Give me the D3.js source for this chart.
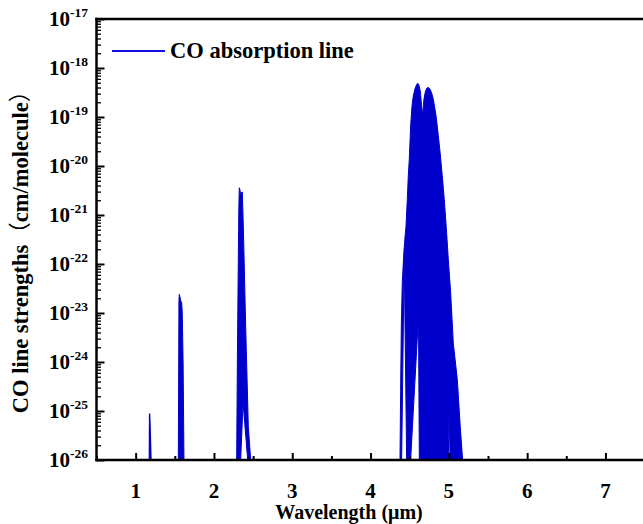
<!DOCTYPE html>
<html>
<head>
<meta charset="utf-8">
<script src="https://cdn.jsdelivr.net/npm/d3@7"></script>
<style>
  html, body { margin: 0; padding: 0; background: #fff; }
  svg { display: block; }
</style>
</head>
<body>
<script>
// ---------- data ----------
const xTickValues = [1, 2, 3, 4, 5, 6, 7];
const xMinorTicks = [0.5, 1.5, 2.5, 3.5, 4.5, 5.5, 6.5, 7.5];
const yExponents = [-17, -18, -19, -20, -21, -22, -23, -24, -25, -26];
const legendLabel = "CO absorption line";
const xTitle = "Wavelength (μm)";
const yTitleParts = ["CO line strengths", "（", "cm/molecule", "）"];

// third overtone band (~1.19 µm)
const band3v_wl = [1.175, 1.178, 1.184, 1.196];
const band3v_S  = [1e-26, 8.7e-26, 5e-26, 1e-26];

// second overtone band (~1.57 µm)
const band2v_wl = [1.545, 1.553, 1.558, 1.575, 1.588, 1.595, 1.606, 1.617];
const band2v_S  = [1e-26, 1.8e-23, 2.4e-23, 1.8e-23, 1.6e-23, 1.0e-23, 1e-24, 1e-26];

// first overtone band (~2.35 µm)
const band1v_wl = [2.290, 2.299, 2.311, 2.318, 2.324, 2.333, 2.343, 2.352, 2.362, 2.375, 2.405, 2.439, 2.469, 2.431, 2.372, 2.341];
const band1v_S  = [1e-26, 1.1e-24, 1.2e-22, 1.5e-21, 3.6e-21, 3.2e-21, 2.4e-21, 2.9e-21, 2.95e-21, 5.9e-22, 5.4e-24, 4.8e-26, 1e-26, 1e-26, 1.5e-25, 1e-26];

// fundamental band (~4.7 µm)
const band0v_wl = [4.376, 4.384, 4.393, 4.405, 4.425, 4.440, 4.453, 4.470, 4.482, 4.495, 4.512, 4.530, 4.546, 4.570, 4.590, 4.602, 4.615, 4.635, 4.652, 4.666, 4.680, 4.700, 4.720, 4.738, 4.760, 4.780, 4.802, 4.835, 4.866, 4.888, 4.908, 4.930, 4.951, 4.972, 4.993, 5.023, 5.057, 5.108, 5.145, 5.176, 5.015, 5.004, 4.993, 4.623, 4.612, 4.512, 4.461, 4.430, 4.397];
const band0v_S  = [1e-26, 2.5e-25, 5.4e-24, 4e-23, 1.7e-22, 3.5e-22, 6.0e-22, 2.2e-21, 6.3e-21, 1.4e-20, 6.6e-20, 1.7e-19, 2.7e-19, 3.9e-19, 4.6e-19, 4.9e-19, 4.6e-19, 3.4e-19, 1.7e-19, 1.05e-19, 2.2e-19, 3.3e-19, 3.9e-19, 4.0e-19, 3.7e-19, 3.1e-19, 2.3e-19, 1.1e-19, 4.1e-20, 1.9e-20, 8.6e-21, 3.5e-21, 1.3e-21, 4.2e-22, 1.24e-22, 2.6e-23, 2.4e-24, 4.4e-25, 5e-26, 1e-26, 1e-26, 1.24e-25, 1e-26, 1e-26, 8.6e-24, 1e-26, 1e-26, 1.3e-22, 1e-26];

// ---------- layout ----------
const W = 643, H = 524;
const mLeft = 96.5, mRight = 644.6, mTop = 19, mBottom = 460;
const blue = "#0000cc";
const serif = "'Liberation Serif', 'Times New Roman', Times, serif";
const cjk = "'Noto Sans CJK SC', 'Noto Sans CJK JP', sans-serif";

const svg = d3.select("body").append("svg")
  .attr("width", W).attr("height", H)
  .attr("viewBox", `0 0 ${W} ${H}`);

const x = d3.scaleLinear().domain([0.5, 7.5]).range([mLeft, mRight]);
const y = d3.scaleLog().domain([1e-26, 1e-17]).range([mBottom, mTop]);

svg.append("defs").append("clipPath").attr("id", "plotclip")
  .append("rect").attr("x", mLeft).attr("y", mTop).attr("width", mRight - mLeft).attr("height", mBottom - mTop);

// ---------- spectrum ----------
const bands = [
  [band3v_wl, band3v_S, 1.4],
  [band2v_wl, band2v_S, 1],
  [band1v_wl, band1v_S, 1],
  [band0v_wl, band0v_S, 1]
];
const line = d3.line().x(d => x(d[0])).y(d => y(d[1])).curve(d3.curveLinearClosed);
const g = svg.append("g").attr("clip-path", "url(#plotclip)");
bands.forEach(([wl, S, sw]) => {
  const pts = wl.map((w, i) => [w, S[i]]);
  g.append("path").attr("d", line(pts))
    .attr("fill", blue).attr("stroke", blue)
    .attr("stroke-width", sw).attr("stroke-linejoin", "round");
});

// ---------- axes ----------
const axisColor = "#000";
const xAxis = d3.axisBottom(x).tickValues(xTickValues).tickSize(-7).tickFormat("");
const gx = svg.append("g").attr("transform", `translate(0,${mBottom})`).call(xAxis);
gx.select(".domain").remove();
gx.selectAll(".tick line").attr("stroke", axisColor).attr("stroke-width", 2);
const xAxisMinor = d3.axisBottom(x).tickValues(xMinorTicks).tickSize(-4).tickFormat("");
const gxm = svg.append("g").attr("transform", `translate(0,${mBottom})`).call(xAxisMinor);
gxm.select(".domain").remove();
gxm.selectAll(".tick line").attr("stroke", axisColor).attr("stroke-width", 2);

svg.append("g").selectAll("text").data(xTickValues).join("text")
  .attr("x", d => x(d)).attr("y", 498)
  .attr("text-anchor", "middle")
  .attr("font-family", serif).attr("font-weight", "bold").attr("font-size", 21)
  .attr("fill", "#000")
  .text(d => d);

const majorVals = yExponents.map(e => Math.pow(10, e));
const minorVals = [];
for (let e = -26; e < -17; e++) for (let m = 2; m <= 9; m++) minorVals.push(m * Math.pow(10, e));
const yAxis = d3.axisLeft(y).tickValues(majorVals).tickSize(-8).tickFormat("");
const gy = svg.append("g").attr("transform", `translate(${mLeft},0)`).call(yAxis);
gy.select(".domain").remove();
gy.selectAll(".tick line").attr("stroke", axisColor).attr("stroke-width", 2);
const yAxisMinor = d3.axisLeft(y).tickValues(minorVals).tickSize(-4.5).tickFormat("");
const gym = svg.append("g").attr("transform", `translate(${mLeft},0)`).call(yAxisMinor);
gym.select(".domain").remove();
gym.selectAll(".tick line").attr("stroke", axisColor).attr("stroke-width", 1.3);

const yl = svg.append("g").selectAll("text").data(yExponents).join("text")
  .attr("x", 88).attr("y", e => y(Math.pow(10, e)) + 7)
  .attr("text-anchor", "end")
  .attr("font-family", serif).attr("font-weight", "bold").attr("font-size", 21)
  .attr("fill", "#000");
yl.append("tspan").text("10");
yl.append("tspan").attr("dy", -9).attr("font-size", 13.5).text(e => "-" + Math.abs(e));

svg.append("line").attr("x1", mLeft).attr("x2", mLeft).attr("y1", mTop - 1.2).attr("y2", mBottom + 1.2)
  .attr("stroke", axisColor).attr("stroke-width", 2.5);
svg.append("line").attr("x1", mLeft - 1.2).attr("x2", mRight + 2).attr("y1", mBottom).attr("y2", mBottom)
  .attr("stroke", axisColor).attr("stroke-width", 2.5);
svg.append("line").attr("x1", mLeft - 1.2).attr("x2", mRight + 2).attr("y1", mTop).attr("y2", mTop)
  .attr("stroke", axisColor).attr("stroke-width", 2.5);

// ---------- titles ----------
svg.append("text")
  .attr("x", 349).attr("y", 519)
  .attr("text-anchor", "middle")
  .attr("font-family", serif).attr("font-weight", "bold").attr("font-size", 20)
  .attr("fill", "#000")
  .text(xTitle);

const yt = svg.append("text")
  .attr("transform", `translate(28,${(mTop + mBottom) / 2 + 7}) rotate(-90)`)
  .attr("text-anchor", "middle")
  .attr("font-family", serif).attr("font-weight", "bold").attr("font-size", 22.5)
  .attr("fill", "#000");
yTitleParts.forEach((t, i) => {
  const ts = yt.append("tspan").text(t);
  if (i % 2 === 1) ts.attr("font-family", cjk).attr("font-weight", "normal");
});

// ---------- legend ----------
svg.append("line").attr("x1", 112).attr("x2", 165).attr("y1", 51).attr("y2", 51)
  .attr("stroke", "#1010e0").attr("stroke-width", 2);
svg.append("text").attr("x", 170).attr("y", 58)
  .attr("font-family", serif).attr("font-weight", "bold").attr("font-size", 22.5)
  .attr("fill", "#000")
  .text(legendLabel);
</script>
</body>
</html>
